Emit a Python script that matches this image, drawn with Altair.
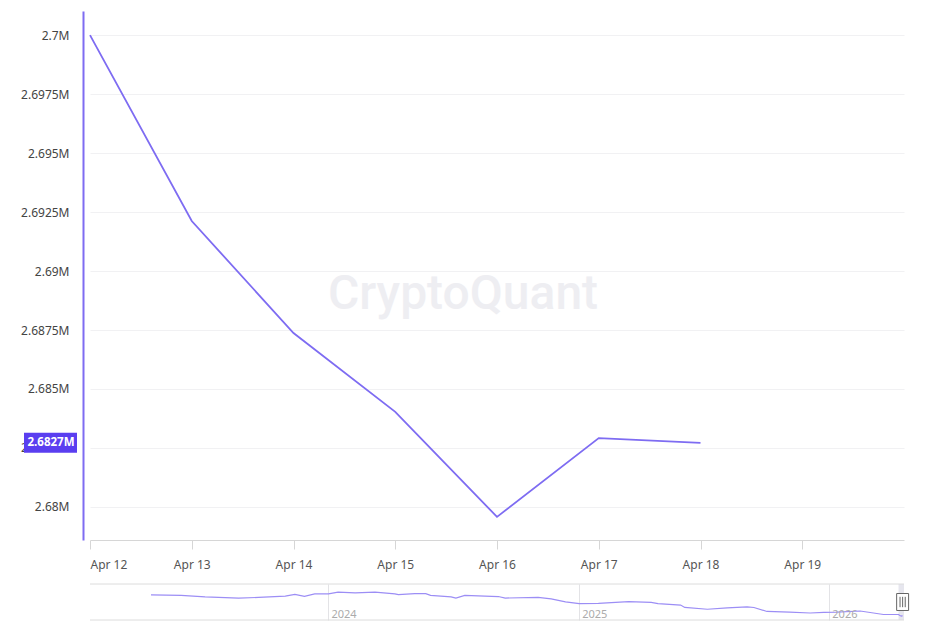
import altair as alt
import pandas as pd

# ---- main series (millions) ----
days = ["2026-04-12", "2026-04-13", "2026-04-14", "2026-04-15",
        "2026-04-16", "2026-04-17", "2026-04-18"]
reserve_m = [2.7000, 2.69212, 2.68737, 2.68403, 2.67958, 2.68292, 2.68272]

y_ticks = [2.68, 2.6825, 2.685, 2.6875, 2.69, 2.6925, 2.695, 2.6975, 2.7]
x_tick_days = ["2026-04-12", "2026-04-13", "2026-04-14", "2026-04-15",
               "2026-04-16", "2026-04-17", "2026-04-18", "2026-04-19"]

# ---- navigator (history) series (millions) ----
nav_dates = ["2023-04-17", "2023-05-31", "2023-07-05", "2023-08-23", "2023-09-21",
             "2023-10-30", "2023-11-13", "2023-11-27", "2023-12-12", "2024-01-01",
             "2024-01-15", "2024-02-09", "2024-03-09", "2024-04-07", "2024-04-12",
             "2024-05-06", "2024-05-22", "2024-05-29", "2024-06-28", "2024-07-05",
             "2024-07-18", "2024-09-05", "2024-09-15", "2024-11-02", "2024-11-21",
             "2024-12-12", "2025-01-01", "2025-01-29", "2025-03-14", "2025-04-16",
             "2025-04-26", "2025-05-29", "2025-06-04", "2025-07-07", "2025-08-05",
             "2025-09-03", "2025-09-13", "2025-10-02", "2025-11-04", "2025-12-04",
             "2025-12-24", "2026-01-12", "2026-02-15", "2026-03-21"]
nav_values = [2.947, 2.939, 2.920, 2.906, 2.914, 2.931, 2.953, 2.928, 2.958, 2.958,
              2.980, 2.972, 2.980, 2.958, 2.950, 2.961, 2.961, 2.939, 2.920, 2.906,
              2.939, 2.925, 2.906, 2.914, 2.895, 2.859, 2.837, 2.840, 2.862, 2.851,
              2.837, 2.818, 2.788, 2.766, 2.782, 2.796, 2.788, 2.738, 2.730, 2.719,
              2.727, 2.730, 2.744, 2.700]
nav_y_domain = [2.631, 3.082]
year_starts = ["2024-01-01", "2025-01-01", "2026-01-01"]
year_labels = ["2024", "2025", "2026"]

PURPLE = "#7e6cf2"
BADGE = "#5a3ef0"
FONT = "Noto Sans"

main_df = pd.DataFrame({"date": days, "v": reserve_m})
last_df = main_df.tail(1)
nav_df = pd.DataFrame({"date": nav_dates + days, "v": nav_values + reserve_m})
year_df = pd.DataFrame({"date": year_starts, "label": year_labels})
sel_df = pd.DataFrame({"start": ["2026-04-12"], "end": ["2026-04-20"]})
border_df = pd.DataFrame({"v": nav_y_domain})


def dt(s):
    y, m, d = (int(p) for p in s.split("-"))
    return alt.DateTime(year=y, month=m, date=d, utc=True)


W = 814
H = 529
NAV_H = 36

x_main = alt.X(
    "date:T",
    scale=alt.Scale(type="utc", domain=[dt("2026-04-12"), dt("2026-04-20")]),
    axis=alt.Axis(values=[dt(s) for s in x_tick_days], format="%b %d",
                  title=None, grid=False, domainColor="#d6d6d6", tickColor="#d6d6d6",
                  tickSize=9, labelPadding=10, labelColor="#555", labelFontSize=12,
                  labelFont=FONT),
)
y_main = alt.Y(
    "v:Q",
    scale=alt.Scale(domain=[2.6786, 2.70102], nice=False, zero=False),
    axis=alt.Axis(values=y_ticks, labelExpr="format(datum.value, '.4~f') + 'M'",
                  title=None, offset=7, domainColor=PURPLE, domainWidth=2,
                  ticks=False, labelPadding=14, grid=True, gridColor="#f1f1f3",
                  labelColor="#444", labelFontSize=12, labelFont=FONT,
                  minExtent=70, maxExtent=70),
)

line = alt.Chart(main_df).mark_line(color=PURPLE, strokeWidth=1.8).encode(x=x_main, y=y_main)

watermark = alt.Chart(main_df.head(1)).mark_text(
    text="CryptoQuant", font="Roboto", fontSize=48, fontWeight=500,
    color="#eeeef2", baseline="middle", align="center"
).encode(x=alt.value(373), y=alt.value(284))

badge = alt.Chart(last_df).mark_tick(
    color=BADGE, orient="horizontal", thickness=20, size=53, opacity=1
).encode(x=alt.value(-39.5), y=alt.Y("v:Q"))
badge_text = alt.Chart(last_df).transform_calculate(
    label="format(datum.v, '.4f') + 'M'"
).mark_text(color="white", fontSize=11.5, fontWeight="bold", font=FONT,
            align="center", baseline="middle").encode(
    x=alt.value(-39), y=alt.Y("v:Q"), text="label:N")

main = alt.layer(watermark, line, badge, badge_text).properties(width=W, height=H)

# ---- navigator ----
x_nav_scale = alt.Scale(type="utc", domain=[dt("2023-01-18"), dt("2026-04-20")])
y_nav_scale = alt.Scale(domain=nav_y_domain, nice=False, zero=False)

sel = alt.Chart(sel_df).mark_rect(color="#e6e6ee").encode(
    x=alt.X("start:T", scale=x_nav_scale), x2="end:T")

borders = alt.Chart(border_df).mark_rule(color="#dcdcdc", strokeWidth=1).encode(
    y=alt.Y("v:Q", scale=y_nav_scale))

nav_line = alt.Chart(nav_df).mark_line(color="#9c8ef5", strokeWidth=1.2).encode(
    x=alt.X("date:T", scale=x_nav_scale,
            axis=alt.Axis(title=None, labels=False, ticks=False, domain=False,
                          values=[dt(s) for s in year_starts], grid=True,
                          gridColor="#e3e3e6")),
    y=alt.Y("v:Q", scale=y_nav_scale,
            axis=alt.Axis(title=None, labels=False, ticks=False, domain=False,
                          grid=False, minExtent=77, maxExtent=77)))

year_text = alt.Chart(year_df).mark_text(
    align="left", baseline="bottom", dx=3, fontSize=11, color="#ababab", font=FONT
).encode(x=alt.X("date:T", scale=x_nav_scale), y=alt.value(NAV_H), text="label:N")

handle = alt.Chart(last_df).mark_point(
    shape="M-0.69,-0.98H0.69V0.98H-0.69Z M-0.3,-0.6V0.6 M0,-0.6V0.6 M0.3,-0.6V0.6",
    size=300, filled=False, stroke="#666", strokeWidth=1, fill="white", fillOpacity=1,
    opacity=1
).encode(x=alt.X("date:T", scale=x_nav_scale), y=alt.value(NAV_H / 2))

nav = alt.layer(sel, borders, nav_line, year_text, handle).properties(
    width=W, height=NAV_H)

chart = alt.vconcat(main, nav, spacing=13).properties(
    padding={"left": 5, "top": 3, "right": 5, "bottom": 0}
).configure(font=FONT).configure_view(stroke="transparent", strokeWidth=0)

chart.save("out.html", embed_options={"renderer": "svg", "actions": False})
